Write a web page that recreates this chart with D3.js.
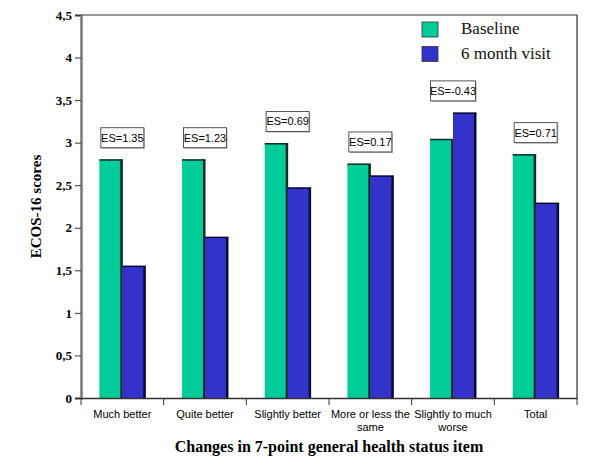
<!DOCTYPE html>
<html>
<head>
<meta charset="utf-8">
<script src="https://cdn.jsdelivr.net/npm/d3@7"></script>
<style>
  body { margin: 0; background: #fff; }
  svg { display: block; }
</style>
</head>
<body>
<script>
// chart data
var categories = ["Much better", "Quite better", "Slightly better", "More or less the same", "Slightly to much worse", "Total"];
var series = ["Baseline", "6 month visit"];
var baseline = [2.80, 2.80, 2.99, 2.75, 3.04, 2.86];
var visit6 = [1.55, 1.89, 2.47, 2.61, 3.35, 2.29];
var effectSizes = ["1.35", "1.23", "0.69", "0.17", "-0.43", "0.71"];
var yTicks = [0, 0.5, 1, 1.5, 2, 2.5, 3, 3.5, 4, 4.5];

var colors = ["#00cc99", "#3333cc"];
var edgeColors = ["#0d2b22", "#0a0a33"];

// layout (window.top is taken, so plot_* names)
var width = 600,
    height = 470;
var plot_left = 81, plot_right = 577, plot_top = 15, plot_bottom = 398;

var svg = d3.select("body").append("svg")
    .attr("width", width)
    .attr("height", height);

var x = d3.scaleBand()
    .domain(categories)
    .range([plot_left, plot_right])
    .padding(0);

var xs = d3.scaleBand()
    .domain(series)
    .range([0, x.bandwidth()])
    .paddingInner(0)
    .paddingOuter(0.8);

var y = d3.scaleLinear()
    .domain([0, 4.5])
    .range([plot_bottom, plot_top]);

var rows = categories.map(function(c, i){
    return {cat: c, vals: [baseline[i], visit6[i]], es: effectSizes[i]};
});

// frame: top and right lines
svg.append("path")
    .attr("d", "M" + plot_left + "," + plot_top + "H" + plot_right + "V" + plot_bottom)
    .attr("fill", "none")
    .attr("stroke", "#333")
    .attr("stroke-width", 1.2);

// bars
var groups = svg.selectAll("g.cat")
    .data(rows)
  .enter().append("g")
    .attr("class", "cat")
    .attr("transform", function(d){ return "translate(" + x(d.cat) + ",0)"; });

groups.each(function(d){
    var g = d3.select(this);
    d.vals.forEach(function(v, k){
        var bx = xs(series[k]), bw = xs.bandwidth();
        g.append("rect")
            .attr("x", bx)
            .attr("y", y(v))
            .attr("width", bw)
            .attr("height", y(0) - y(v))
            .attr("fill", colors[k]);
        // dark top + right edge for the 3d look
        g.append("rect")
            .attr("x", bx + bw - 2)
            .attr("y", y(v))
            .attr("width", 2.5)
            .attr("height", y(0) - y(v))
            .attr("fill", edgeColors[k]);
        g.append("rect")
            .attr("x", bx)
            .attr("y", y(v) - 0.5)
            .attr("width", bw + 0.5)
            .attr("height", 1.5)
            .attr("fill", edgeColors[k]);
    });
});

// ES labels
groups.each(function(d){
    var g = d3.select(this);
    var cx = x.bandwidth() / 2;
    var by = y(d3.max(d.vals)) - 12;
    var bw = d.es.charAt(0) == "-" ? 45 : 43, bh = 20;
    g.append("rect")
        .attr("x", cx - bw / 2 + 1)
        .attr("y", by - bh + 1)
        .attr("width", bw)
        .attr("height", bh)
        .attr("fill", "#aaa");
    g.append("rect")
        .attr("x", cx - bw / 2)
        .attr("y", by - bh)
        .attr("width", bw)
        .attr("height", bh)
        .attr("fill", "#fff")
        .attr("stroke", "#555")
        .attr("stroke-width", 1);
    g.append("text")
        .attr("x", cx)
        .attr("y", by - bh / 2)
        .attr("dy", "0.36em")
        .attr("text-anchor", "middle")
        .style("font-family", "Liberation Sans, Arial, sans-serif")
        .style("font-size", "11px")
        .style("fill", "#000")
        .text("ES=" + d.es);
});

// y axis
var yAxis = d3.axisLeft(y)
    .tickValues(yTicks)
    .tickSize(6)
    .tickPadding(3)
    .tickFormat(function(d){ return String(d).replace(".", ","); });

var yg = svg.append("g")
    .attr("transform", "translate(" + plot_left + ",0)")
    .call(yAxis);
yg.select(".domain").attr("stroke", "#777").attr("stroke-width", 2.5);
yg.selectAll(".tick line").attr("stroke", "#333");
yg.selectAll(".tick text")
    .style("font-family", "Liberation Serif, Times New Roman, serif")
    .style("font-weight", "bold")
    .style("font-size", "13px")
    .style("fill", "#000");

// x axis
var xAxis = d3.axisBottom(x)
    .tickSize(0)
    .tickPadding(12);

var xg = svg.append("g")
    .attr("transform", "translate(0," + plot_bottom + ")")
    .call(xAxis);
xg.select(".domain").attr("stroke", "#333").attr("stroke-width", 1.5);
xg.selectAll(".tick text")
    .style("font-family", "Liberation Sans, Arial, sans-serif")
    .style("font-size", "11px")
    .style("fill", "#000")
    .call(wrap, 80);

// boundary ticks between categories
xg.selectAll("line.sep")
    .data(categories.concat(["end"]))
  .enter().append("line")
    .attr("class", "sep")
    .attr("x1", function(d, i){ return plot_left + i * x.step(); })
    .attr("x2", function(d, i){ return plot_left + i * x.step(); })
    .attr("y1", 0)
    .attr("y2", 7)
    .attr("stroke", "#333")
    .attr("stroke-width", 1);

function wrap(text, w){
    text.each(function(){
        var t = d3.select(this),
            words = t.text().split(/\s+/),
            line = [],
            yy = t.attr("y"),
            dy = parseFloat(t.attr("dy")),
            lineNo = 0;
        var tspan = t.text(null).append("tspan").attr("x", 0).attr("y", yy).attr("dy", dy + "em");
        words.forEach(function(word){
            line.push(word);
            tspan.text(line.join(" "));
            if (tspan.node().getComputedTextLength() > w && line.length > 1){
                line.pop();
                tspan.text(line.join(" "));
                line = [word];
                lineNo++;
                tspan = t.append("tspan").attr("x", 0).attr("y", yy)
                    .attr("dy", (lineNo * 1.2 + dy) + "em").text(word);
            }
        });
    });
}

// axis titles
svg.append("text")
    .attr("transform", "translate(41," + (plot_top + plot_bottom) / 2 + ") rotate(-90)")
    .attr("text-anchor", "middle")
    .style("font-family", "Liberation Serif, Times New Roman, serif")
    .style("font-weight", "bold")
    .style("font-size", "15px")
    .text("ECOS-16 scores");

svg.append("text")
    .attr("x", 329)
    .attr("y", 452)
    .attr("text-anchor", "middle")
    .style("font-family", "Liberation Serif, Times New Roman, serif")
    .style("font-weight", "bold")
    .style("font-size", "16px")
    .text("Changes in 7-point general health status item");

// legend
var legend = svg.selectAll("g.legend")
    .data(series)
  .enter().append("g")
    .attr("class", "legend")
    .attr("transform", function(d, i){ return "translate(422," + (22 + i * 24.5) + ")"; });

legend.append("rect")
    .attr("width", 16)
    .attr("height", 15)
    .attr("fill", function(d, i){ return colors[i]; })
    .attr("stroke", "#333")
    .attr("stroke-width", 0.8);

legend.append("text")
    .attr("x", 39)
    .attr("y", 12)
    .style("font-family", "Liberation Serif, Times New Roman, serif")
    .style("font-size", "17px")
    .style("fill", "#111")
    .text(function(d){ return d; });
</script>
</body>
</html>
